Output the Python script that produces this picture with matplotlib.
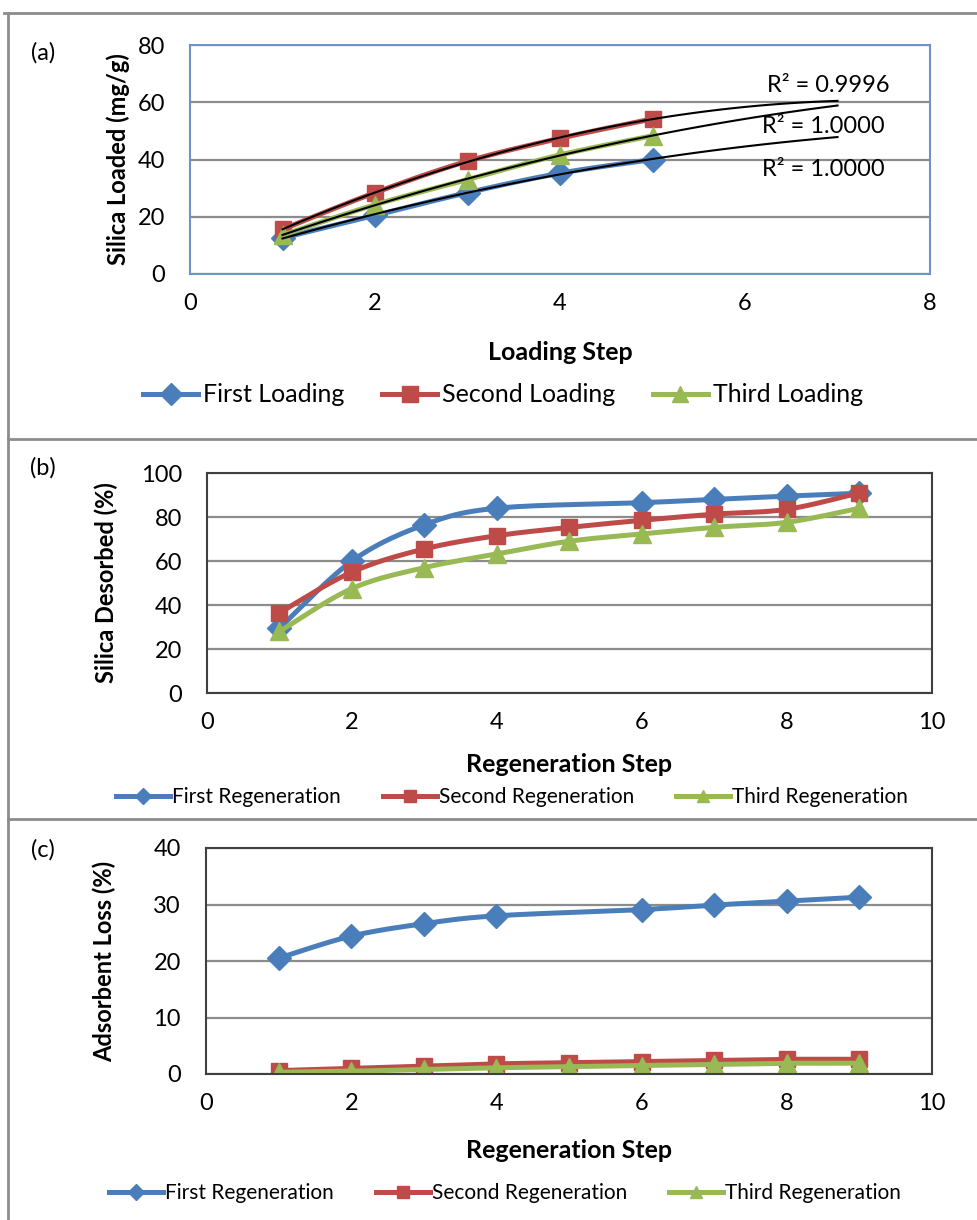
import numpy as np
import matplotlib.pyplot as plt
from matplotlib.lines import Line2D

plt.rcParams['font.family'] = ['Liberation Sans Narrow', 'Lato', 'DejaVu Sans']

# ---- data ----
load_step = [1, 2, 3, 4, 5]
first_loading = [12.6, 20.5, 28.4, 35.2, 40.0]
second_loading = [15.6, 28.4, 39.4, 47.4, 54.2]
third_loading = [13.6, 24.2, 33.0, 41.6, 48.3]
r2_labels = ['R² = 0.9996', 'R² = 1.0000', 'R² = 1.0000']
load_names = ['First Loading', 'Second Loading', 'Third Loading']

regen_step = [1, 2, 3, 4, 5, 6, 7, 8, 9]
regen_step_first = [1, 2, 3, 4, 6, 7, 8, 9]
desorb_first = [29.5, 60.0, 76.5, 84.0, 86.5, 88.0, 89.5, 90.8]
desorb_second = [36.5, 55.0, 65.5, 71.5, 75.3, 78.5, 81.3, 83.5, 91.0]
desorb_third = [28.0, 47.5, 57.0, 63.2, 69.0, 72.3, 75.3, 77.6, 84.0]

loss_first = [20.5, 24.4, 26.6, 28.0, 29.1, 29.9, 30.6, 31.3]
loss_second = [0.6, 1.0, 1.4, 1.8, 2.0, 2.2, 2.4, 2.6, 2.6]
loss_third = [0.3, 0.5, 0.8, 1.1, 1.3, 1.5, 1.7, 1.9, 1.9]
regen_names = ['First Regeneration', 'Second Regeneration', 'Third Regeneration']

BLUE, RED, GREEN = '#4A7EBB', '#BE4B48', '#98B954'
GRID = '#8C8C8C'
W, H = 978, 1220


def fx(px):
    return px / W


def fy(py):
    return 1 - py / H


def add_axes(left, top, right, bottom):
    return fig.add_axes([fx(left), fy(bottom), (right - left) / W, (bottom - top) / H])


def smooth(x, y, n=25):
    # excel style smoothed line (bezier through the points)
    x = np.asarray(x, float)
    y = np.asarray(y, float)
    px = np.concatenate([[x[0]], x, [x[-1]]])
    py = np.concatenate([[y[0]], y, [y[-1]]])
    t = np.linspace(0, 1, n)
    xs, ys = [], []
    for i in range(len(x) - 1):
        p0, p1, p2, p3 = (np.array([px[j], py[j]]) for j in range(i, i + 4))
        c1 = p1 + (p2 - p0) / 6
        c2 = p2 - (p3 - p1) / 6
        seg = (np.outer((1 - t) ** 3, p1) + np.outer(3 * (1 - t) ** 2 * t, c1)
               + np.outer(3 * (1 - t) * t ** 2, c2) + np.outer(t ** 3, p2))
        xs.append(seg[:, 0])
        ys.append(seg[:, 1])
    return np.concatenate(xs), np.concatenate(ys)


def style(ax, xmax, ymax, ystep, frame):
    ax.set_xlim(0, xmax)
    ax.set_ylim(0, ymax)
    ax.set_yticks(np.arange(0, ymax + 1, ystep))
    ax.set_xticks(np.arange(0, xmax + 1, 2))
    ax.grid(axis='y', color=GRID, lw=1.6)
    ax.set_axisbelow(True)
    ax.tick_params(length=0, labelsize=17)
    ax.tick_params(axis='y', pad=18)
    ax.tick_params(axis='x', pad=14)
    for s in ax.spines.values():
        s.set_color(frame)
        s.set_linewidth(1.5)


def series(ax, x, y, color, marker, ms):
    sx, sy = smooth(x, y)
    ax.plot(sx, sy, color=color, lw=3.6, solid_capstyle='round')
    ax.plot(x, y, ls='none', marker=marker, ms=ms, color=color, mec=color)


fig = plt.figure(figsize=(W / 100, H / 100), dpi=100)

# ---- panel (a) ----
ax = add_axes(190, 45, 930, 274)
style(ax, 8, 80, 20, '#6F93C6')
series(ax, load_step, first_loading, BLUE, 'D', 12)
series(ax, load_step, second_loading, RED, 's', 12)
series(ax, load_step, third_loading, GREEN, '^', 13)
xt = np.linspace(1, 7, 100)
for ys in [first_loading, second_loading, third_loading]:
    c = np.polyfit(load_step, ys, 2)
    ax.plot(xt, np.polyval(c, xt), color='black', lw=1.5, zorder=5)
ax.text(6.9, 65.7, r2_labels[0], fontsize=17, ha='center', va='center')
ax.text(6.85, 51.6, r2_labels[1], fontsize=17, ha='center', va='center')
ax.text(6.85, 36.5, r2_labels[2], fontsize=17, ha='center', va='center')
ax.yaxis.set_label_coords((118 - 190) / 740, 0.5)
ax.set_ylabel('Silica Loaded (mg/g)', fontsize=17, fontweight='bold', va='center')
fig.text(fx(560), fy(352), 'Loading Step', fontsize=18, fontweight='bold', ha='center', va='center')
fig.text(fx(43), fy(53), '(a)', fontsize=17, ha='center', va='center')
h = [Line2D([], [], color=c, lw=3.6, marker=m, ms=s)
     for c, m, s in [(BLUE, 'D', 11), (RED, 's', 11), (GREEN, '^', 12)]]
fig.legend(h, load_names, loc='center', bbox_to_anchor=(fx(503), fy(395)), ncol=3,
           frameon=False, fontsize=18, handlelength=2.2, handletextpad=0.2, columnspacing=1.5)

# ---- panel (b) ----
ax = add_axes(207, 473, 932, 693)
style(ax, 10, 100, 20, '#404040')
series(ax, regen_step_first, desorb_first, BLUE, 'D', 12)
series(ax, regen_step, desorb_second, RED, 's', 12)
series(ax, regen_step, desorb_third, GREEN, '^', 13)
ax.yaxis.set_label_coords((106 - 207) / 725, 0.5)
ax.set_ylabel('Silica Desorbed (%)', fontsize=17, fontweight='bold', va='center')
fig.text(fx(569), fy(764), 'Regeneration Step', fontsize=18, fontweight='bold', ha='center', va='center')
fig.text(fx(43), fy(468), '(b)', fontsize=17, ha='center', va='center')
h = [Line2D([], [], color=c, lw=3.6, marker=m, ms=s)
     for c, m, s in [(BLUE, 'D', 8), (RED, 's', 8), (GREEN, '^', 9)]]
fig.legend(h, regen_names, loc='center', bbox_to_anchor=(fx(512), fy(797)), ncol=3,
           frameon=False, fontsize=15, handlelength=2.6, handletextpad=0.1, columnspacing=2.0)

# ---- panel (c) ----
ax = add_axes(206, 848, 932, 1074)
style(ax, 10, 40, 10, '#404040')
series(ax, regen_step_first, loss_first, BLUE, 'D', 12)
series(ax, regen_step, loss_second, RED, 's', 12)
series(ax, regen_step, loss_third, GREEN, '^', 13)
ax.yaxis.set_label_coords((104 - 206) / 726, 0.5)
ax.set_ylabel('Adsorbent Loss (%)', fontsize=17, fontweight='bold', va='center')
fig.text(fx(569), fy(1150), 'Regeneration Step', fontsize=18, fontweight='bold', ha='center', va='center')
fig.text(fx(43), fy(850), '(c)', fontsize=17, ha='center', va='center')
fig.legend(h, regen_names, loc='center', bbox_to_anchor=(fx(505), fy(1193)), ncol=3,
           frameon=False, fontsize=15, handlelength=2.6, handletextpad=0.1, columnspacing=2.0)

# ---- panel frames ----
for xs, ys in [([4, W], [13, 13]), ([8, 8], [13, H]), ([8, W], [439, 439]), ([8, W], [819, 819])]:
    fig.add_artist(Line2D([fx(v) for v in xs], [fy(v) for v in ys], color='#8C8C8C', lw=2))

fig.savefig('out.png', dpi=100)
